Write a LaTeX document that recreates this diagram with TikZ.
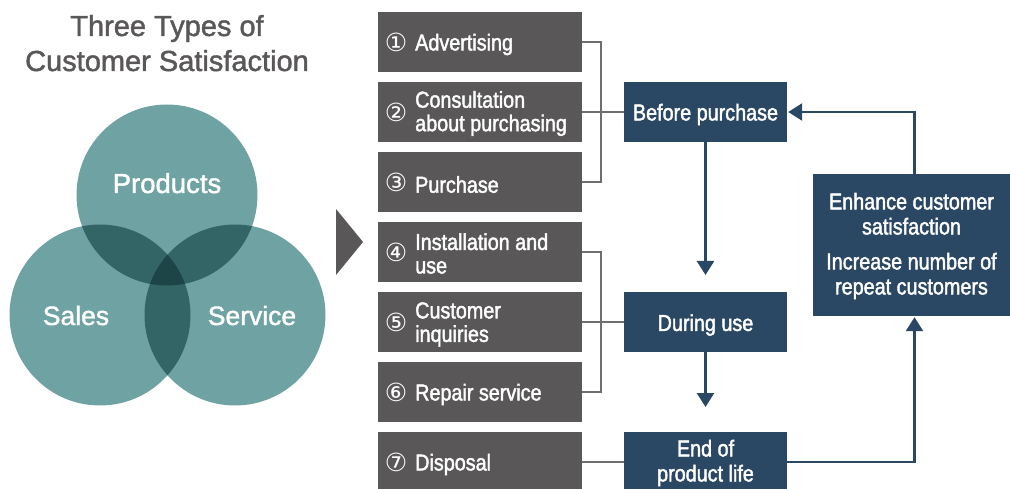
\documentclass[tikz,border=0pt]{standalone}
\usepackage{fontspec}
\setmainfont{Liberation Sans}
\newfontfamily\condf[FakeStretch=0.86,FakeBold=1.8]{Liberation Sans}
\newfontfamily\medf[FakeBold=1.5]{Liberation Sans}
\newfontfamily\circf{DejaVu Sans}
\usetikzlibrary{arrows.meta}
\definecolor{boxgray}{HTML}{595757}
\definecolor{navy}{HTML}{2A4864}
\definecolor{tealA}{HTML}{6FA3A3}
\definecolor{tealB}{HTML}{336566}
\definecolor{tealC}{HTML}{1D4446}
\definecolor{linegray}{HTML}{6E6E6E}
\begin{document}
\begin{tikzpicture}[x=1pt,y=-1pt,
  lbox/.style={fill=boxgray, minimum width=204pt, minimum height=60pt, inner sep=0pt},
  bbox/.style={fill=navy, minimum width=163pt, minimum height=60pt, inner sep=0pt},
  btext/.style={text=white, inner sep=0pt, align=center, font=\condf\fontsize{23}{25}\selectfont},
  numlab/.style={text=white, inner sep=0pt, font=\circf\fontsize{25}{25}\selectfont},
  boxtext/.style={text=white, inner sep=0pt, anchor=west, align=left, yshift=-2.5pt,
    font=\condf\fontsize{23}{23.5}\selectfont},
  title/.style={text=boxgray, inner sep=0pt, anchor=base, font=\medf\fontsize{29}{30}\selectfont},
  circlab/.style={text=white, inner sep=0pt, anchor=base, font=\medf\fontsize{26.5}{28}\selectfont},
  gline/.style={draw=linegray, line width=2pt},
  barrow/.style={draw=navy, line width=2.5pt, -{Triangle[width=17pt,length=14pt]}}
]
\useasboundingbox (0,0) rectangle (1010,489);
\begin{scope}
\clip (0,0) rectangle (1010,489);

% title
\node[title] (ti1) at (167,36) {Three Types of};
\node[title] (ti2) at (167,71) {Customer Satisfaction};

% Venn circles
\coordinate (cP) at (167,195);
\coordinate (cL) at (100,315);
\coordinate (cR) at (235,315);
\def\vr{90.5}
\fill[tealA] (cP) circle[radius=\vr];
\fill[tealA] (cL) circle[radius=\vr];
\fill[tealA] (cR) circle[radius=\vr];
\begin{scope}
  \clip (cP) circle[radius=\vr];
  \fill[tealB] (cL) circle[radius=\vr];
  \fill[tealB] (cR) circle[radius=\vr];
\end{scope}
\begin{scope}
  \clip (cL) circle[radius=\vr];
  \fill[tealB] (cR) circle[radius=\vr];
  \clip (cR) circle[radius=\vr];
  \fill[tealC] (cP) circle[radius=\vr];
\end{scope}
\node[circlab, font=\medf\fontsize{27.5}{28}\selectfont] (lP) at (167,193) {Products};
\node[circlab] (lL) at (76,325) {Sales};
\node[circlab] (lR) at (252,325) {Service};

% chevron
\fill[boxgray] (336,209) -- (363,242) -- (336,275) -- cycle;

% left boxes
\node[lbox] (b1) at (480,42) {};
\node[lbox] (b2) at (480,112) {};
\node[lbox] (b3) at (480,182) {};
\node[lbox] (b4) at (480,252) {};
\node[lbox] (b5) at (480,322) {};
\node[lbox] (b6) at (480,392) {};
\node[lbox] (b7) at (480,462) {};

\node[numlab] (n1) at (396,42) {①};
\node[numlab] (n2) at (396,112) {②};
\node[numlab] (n3) at (396,182) {③};
\node[numlab] (n4) at (396,252) {④};
\node[numlab] (n5) at (396,322) {⑤};
\node[numlab] (n6) at (396,392) {⑥};
\node[numlab] (n7) at (396,462) {⑦};

\node[boxtext] (t1) at (415,42) {Advertising};
\node[boxtext] (t2) at (415,111) {Consultation\\about purchasing};
\node[boxtext] (t3) at (415,182) {Purchase};
\node[boxtext] (t4) at (415,251) {Installation and\\use};
\node[boxtext] (t5) at (415,322) {Customer\\inquiries};
\node[boxtext] (t6) at (415,392) {Repair service};
\node[boxtext] (t7) at (415,462) {Disposal};

% right boxes
\node[bbox] (bp) at (705.5,112) {};
\node[bbox] (du) at (705.5,322) {};
\node[bbox] (eol) at (705.5,462) {};
\node[btext] (bpt) at ([yshift=-2.5pt]bp.center) {Before purchase};
\node[btext] (dut) at ([yshift=-3pt]du.center) {During use};
\node[btext] (eolt) at ([yshift=-1pt]eol.center) {End of\\product life};
\node[fill=navy, minimum width=197pt, minimum height=142pt, inner sep=0pt] (enh) at (911.5,245) {};
\node[btext] (enht) at ([yshift=-1pt]enh.center) {Enhance customer\\satisfaction\\[10pt]Increase number of\\repeat customers};

% gray connectors
\draw[gline] (b1.east) -- ++(19,0) |- (b3.east);
\draw[gline] (b2.east) -- (bp.west);
\draw[gline] (b4.east) -- ++(19,0) |- (b6.east);
\draw[gline] (b5.east) -- (du.west);
\draw[gline] (b7.east) -- (eol.west);

% blue arrows
\coordinate (a1) at (705.5,275);
\coordinate (a2) at (705.5,407);
\draw[barrow] (bp.south) -- (a1);
\draw[barrow] (du.south) -- (a2);
\draw[barrow] ([xshift=3pt]enh.north) |- ([xshift=1pt]bp.east);
\draw[barrow] (eol.east) -| ([xshift=3pt,yshift=-1pt]enh.south);
\end{scope}
\end{tikzpicture}
\end{document}
